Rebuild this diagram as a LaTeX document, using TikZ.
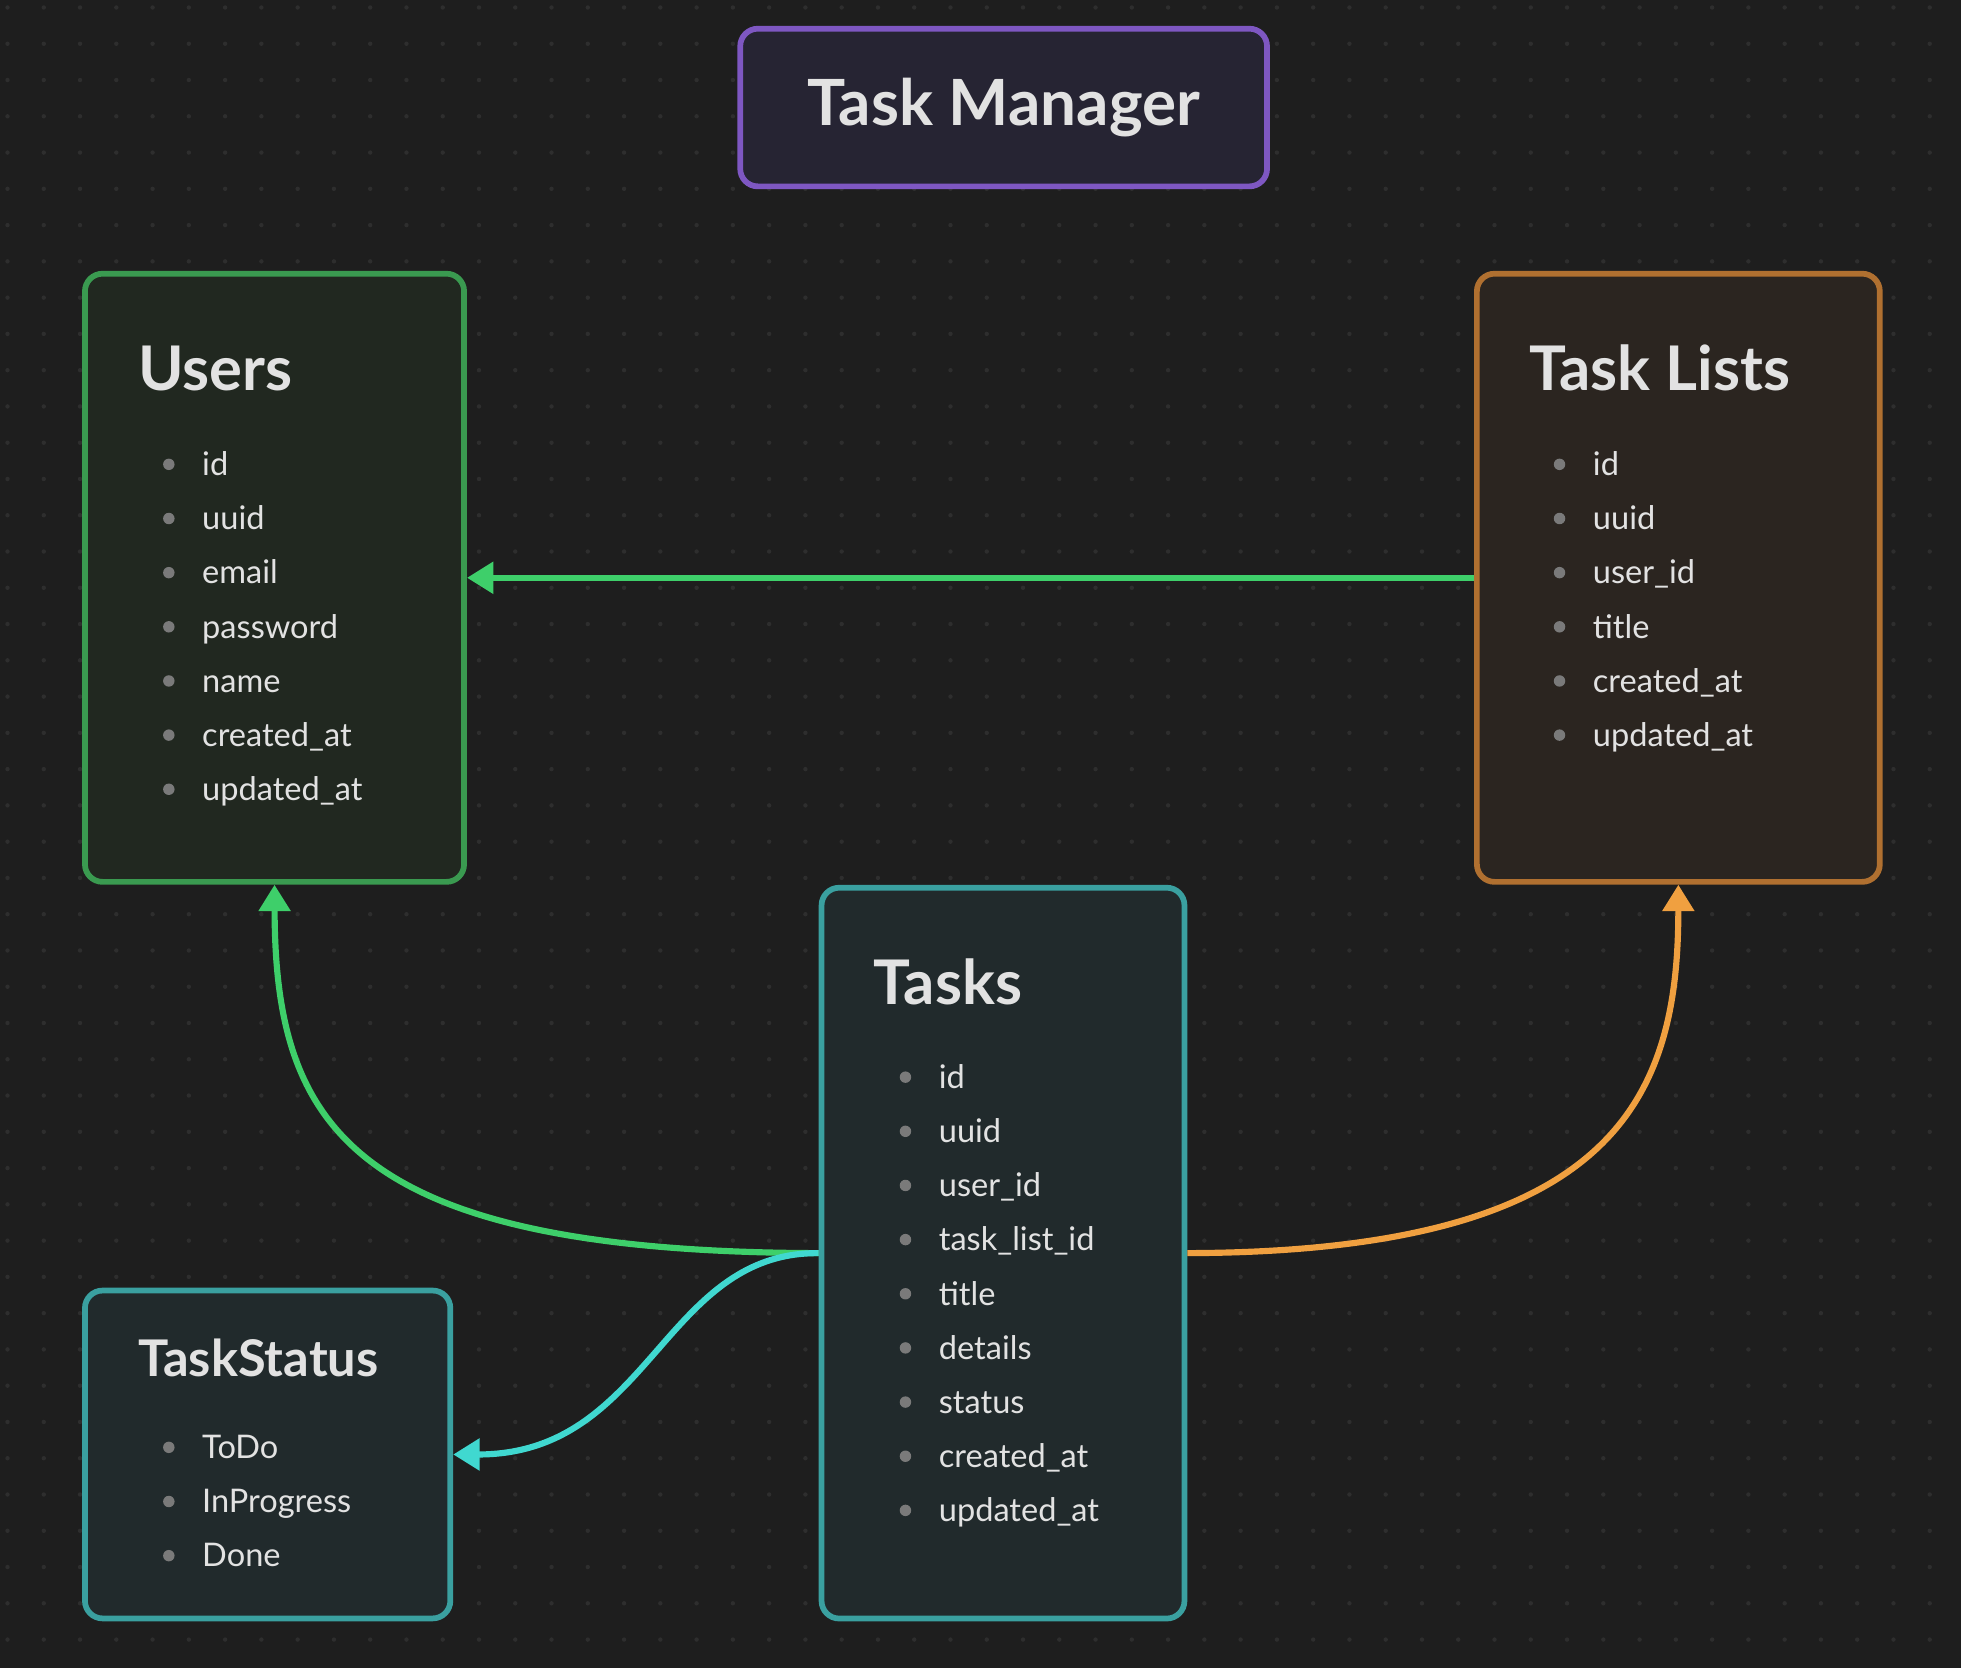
\documentclass[tikz,border=0pt]{standalone}
\usepackage{fontspec}
\setmainfont{Lato}
\usetikzlibrary{arrows.meta, positioning, calc}
\definecolor{bgDark}{HTML}{1E1E1E}
\definecolor{dotGray}{HTML}{2E2E2E}
\definecolor{txtLight}{HTML}{E2E2E2}
\definecolor{bulletGray}{HTML}{7A7A7A}
\definecolor{titleFill}{HTML}{262433}
\definecolor{titleDraw}{HTML}{7E57C2}
\definecolor{usersFill}{HTML}{212820}
\definecolor{usersDraw}{HTML}{3A9A50}
\definecolor{listsFill}{HTML}{2B2520}
\definecolor{listsDraw}{HTML}{B07030}
\definecolor{tasksFill}{HTML}{212A2C}
\definecolor{tasksDraw}{HTML}{3AA0A0}
\definecolor{linkGreen}{HTML}{3ECF6A}
\definecolor{linkOrange}{HTML}{F0A040}
\definecolor{linkCyan}{HTML}{40D8D0}

\begin{document}
\begin{tikzpicture}[x=0.01cm, y=-0.01cm,
    entity/.style={rectangle, rounded corners=4pt, line width=1.3pt, inner sep=0pt},
    heading/.style={anchor=base west, font=\fontsize{14}{16}\selectfont\bfseries, text=txtLight, inner sep=0pt},
    item/.style={anchor=base west, font=\fontsize{7.4}{9}\selectfont, text=txtLight, inner sep=0pt},
    link/.style={-{Triangle[length=6pt, width=7pt]}, line width=1.4pt}
  ]
  % background
  \fill[bgDark] (0,0) rectangle (1568,1334);
  \useasboundingbox (0,0) rectangle (1568,1334);
  \foreach \i in {0,...,54} {
    \foreach \j in {0,...,46} {
      \fill[dotGray] (\i*29+6, \j*29+6) circle (0.5pt);
    }
  }

  % entities
  \node[entity, fill=titleFill, draw=titleDraw, minimum width=4.21cm, minimum height=1.26cm] (title) at (802.5,86) {};
  \node[font=\fontsize{14.5}{16}\selectfont\bfseries, text=txtLight] at (title) {Task Manager};

  \node[entity, fill=usersFill, draw=usersDraw, minimum width=3.03cm, minimum height=4.86cm] (users) at (219.5,462) {};
  \node[entity, fill=listsFill, draw=listsDraw, minimum width=3.22cm, minimum height=4.86cm] (lists) at (1342,462) {};
  \node[entity, fill=tasksFill, draw=tasksDraw, minimum width=2.90cm, minimum height=5.84cm] (tasks) at (802,1002) {};
  \node[entity, fill=tasksFill, draw=tasksDraw, minimum width=2.92cm, minimum height=2.62cm] (status) at (214,1163) {};

  % headings
  \node[heading] (usersHead) at (110,312) {Users};
  \node[heading] (listsHead) at (1222,312) {Task Lists};
  \node[heading] (tasksHead) at (698,803) {Tasks};
  \node[heading, font=\fontsize{11.5}{13}\selectfont\bfseries] (statusHead) at (110,1101) {TaskStatus};

  % fields
  \foreach \f [count=\k] in {id, uuid, email, password, name, created\_at, updated\_at} {
    \fill[bulletGray] (135,{328+43.3*\k}) circle (1.3pt);
    \node[item] (users\k) at (161,{337+43.3*\k}) {\f};
  }
  \foreach \f [count=\k] in {id, uuid, user\_id, title, created\_at, updated\_at} {
    \fill[bulletGray] (1247,{328+43.3*\k}) circle (1.3pt);
    \node[item] (lists\k) at (1273,{337+43.3*\k}) {\f};
  }
  \foreach \f [count=\k] in {id, uuid, user\_id, task\_list\_id, title, details, status, created\_at, updated\_at} {
    \fill[bulletGray] (724,{818+43.3*\k}) circle (1.3pt);
    \node[item] (tasks\k) at (750,{827+43.3*\k}) {\f};
  }
  \foreach \f [count=\k] in {ToDo, InProgress, Done} {
    \fill[bulletGray] (135,{1114+43.3*\k}) circle (1.3pt);
    \node[item] (status\k) at (161,{1123+43.3*\k}) {\f};
  }

  % relations
  \draw[link, linkGreen] (lists.west) -- (users.east);
  \draw[link, linkGreen] (tasks.west) .. controls (280,1001) and (220,900) .. (users.south);
  \draw[link, linkOrange] (tasks.east) .. controls (1290,1001) and (1342,880) .. (lists.south);
  \draw[link, linkCyan] (tasks.west) .. controls (530,1001) and (520,1163) .. (status.east);
\end{tikzpicture}
\end{document}
